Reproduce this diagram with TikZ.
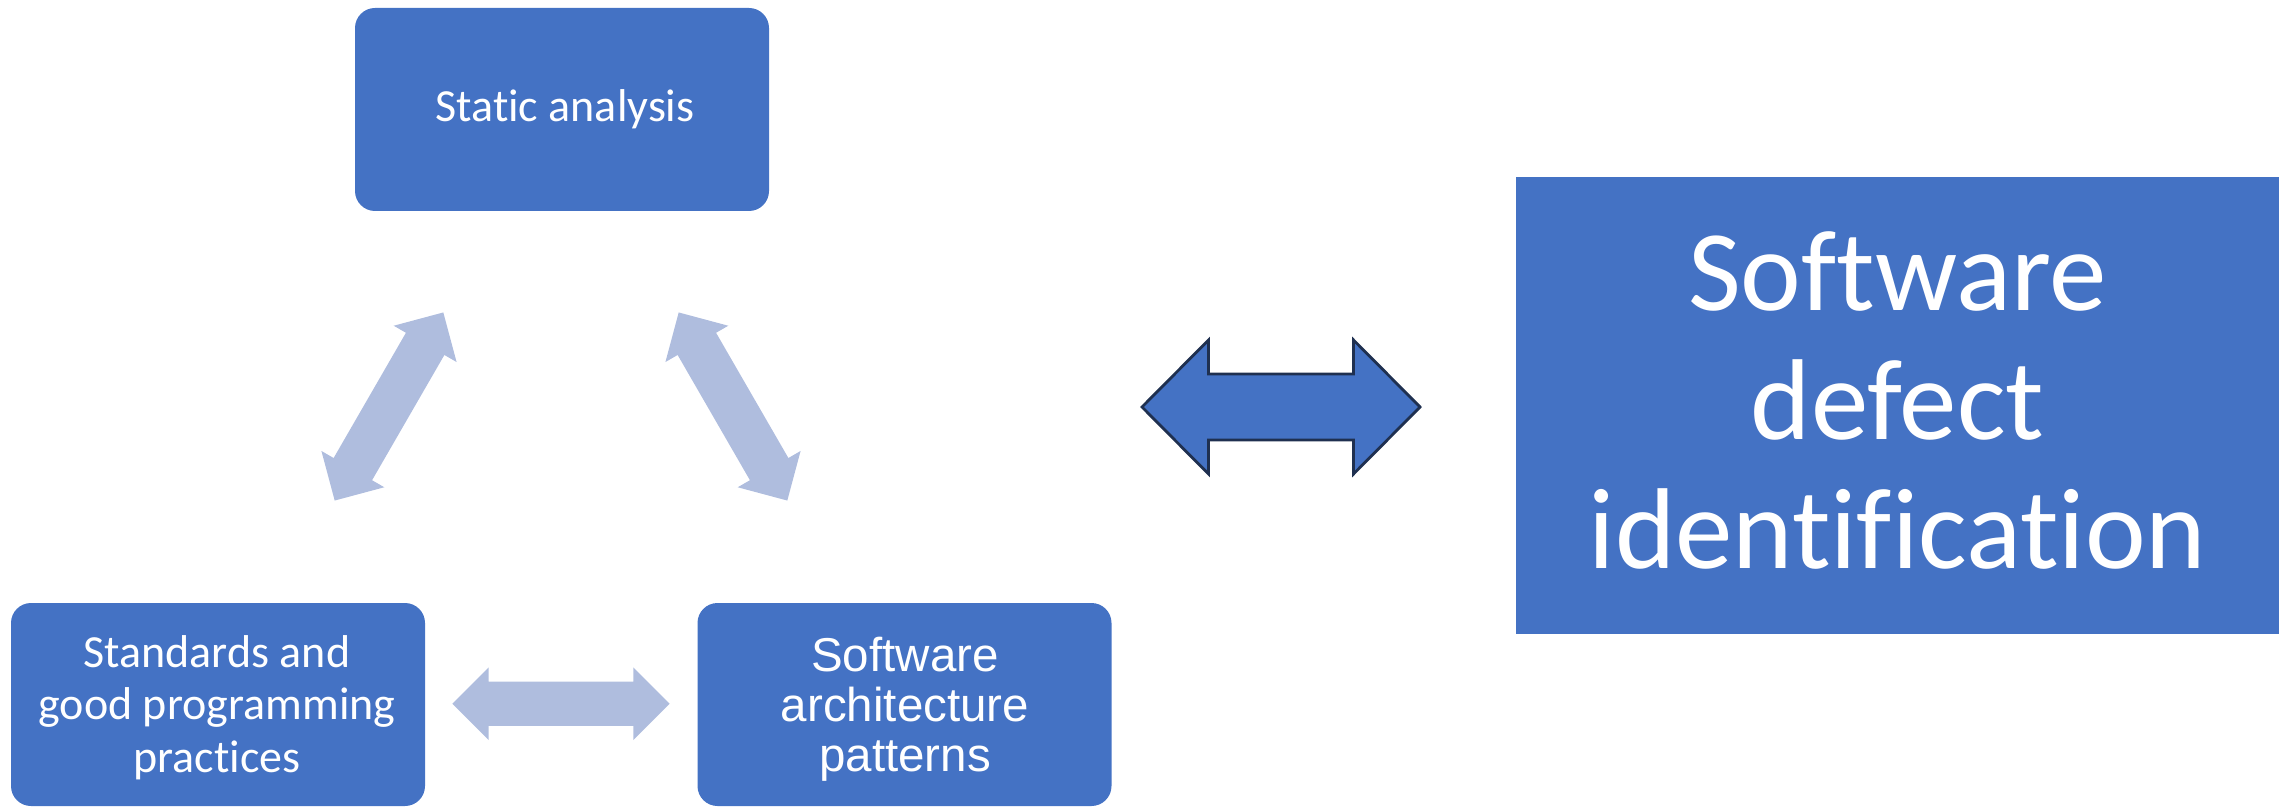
\documentclass[tikz,border=0pt]{standalone}
\usepackage{fontspec}
\setmainfont{Carlito}[Ligatures=NoCommon]
\newfontfamily\arialfont{Liberation Sans}
\definecolor{boxblue}{HTML}{4472C4}
\definecolor{paleblue}{RGB}{175,189,222}
\definecolor{navyedge}{HTML}{1F3050}
\tikzset{
  pics/dblarrow/.style n args={4}{code={%
    % #1 half length, #2 head base, #3 head half width, #4 shaft half width
    \path[pic actions] (-#1,0) -- (-#2,#3) -- (-#2,#4) -- (#2,#4) -- (#2,#3)
      -- (#1,0) -- (#2,-#3) -- (#2,-#4) -- (-#2,-#4) -- (-#2,-#3) -- cycle;}},
}
\begin{document}
\begin{tikzpicture}[x=0.5pt,y=-0.5pt,
  rbox/.style={fill=boxblue, draw=none, rounded corners=10pt, inner sep=0pt,
    minimum width=207pt, minimum height=101.5pt},
  bigbox/.style={fill=boxblue, draw=none, inner sep=0pt,
    minimum width=381.5pt, minimum height=228.5pt},
  txt/.style={text=white, inner sep=0pt, anchor=base},
  calfont/.style={font=\fontsize{23}{26.25}\selectfont},
]
\useasboundingbox (0,0) rectangle (2295,807);

% boxes
\node[rbox] (sa) at (562,109.5) {};
\node[rbox] (sg) at (218,704.5) {};
\node[rbox] (sp) at (904.5,704.5) {};
\node[bigbox] (sd) at (1897.5,405.5) {};

% labels
\node[txt, calfont] (tsa) at (565,122) {Static analysis};
\node[txt, calfont] (tsg) at (217,667)
  {\begin{tabular}[t]{@{}c@{}}Standards and\\good programming\\practices\end{tabular}};
\node[txt, font=\arialfont\fontsize{23.75}{25}\selectfont] (tsp) at (905,671)
  {\begin{tabular}[t]{@{}c@{}}Software\\architecture\\patterns\end{tabular}};
\node[txt, font=\fontsize{57.5}{64.5}\selectfont] (tsd) at (1897.5,310.7)
  {\begin{tabular}[t]{@{}c@{}}Software\\defect\\identification\end{tabular}};

% pale two-way arrows between the three boxes
\pic[fill=paleblue, rotate=60]  at (389,406.5) {dblarrow={108.6}{72.3}{36.3}{22.2}};
\pic[fill=paleblue, rotate=-60] at (733,406.5) {dblarrow={108.6}{72.3}{36.3}{22.2}};
\pic[fill=paleblue]             at (561,703.7) {dblarrow={108.6}{72.3}{36.3}{22.2}};

% outlined two-way arrow towards the result box
\pic[fill=boxblue, draw=navyedge, line width=1.4pt] at (1281,407)
  {dblarrow={139}{72.5}{67}{33}};
\end{tikzpicture}
\end{document}
